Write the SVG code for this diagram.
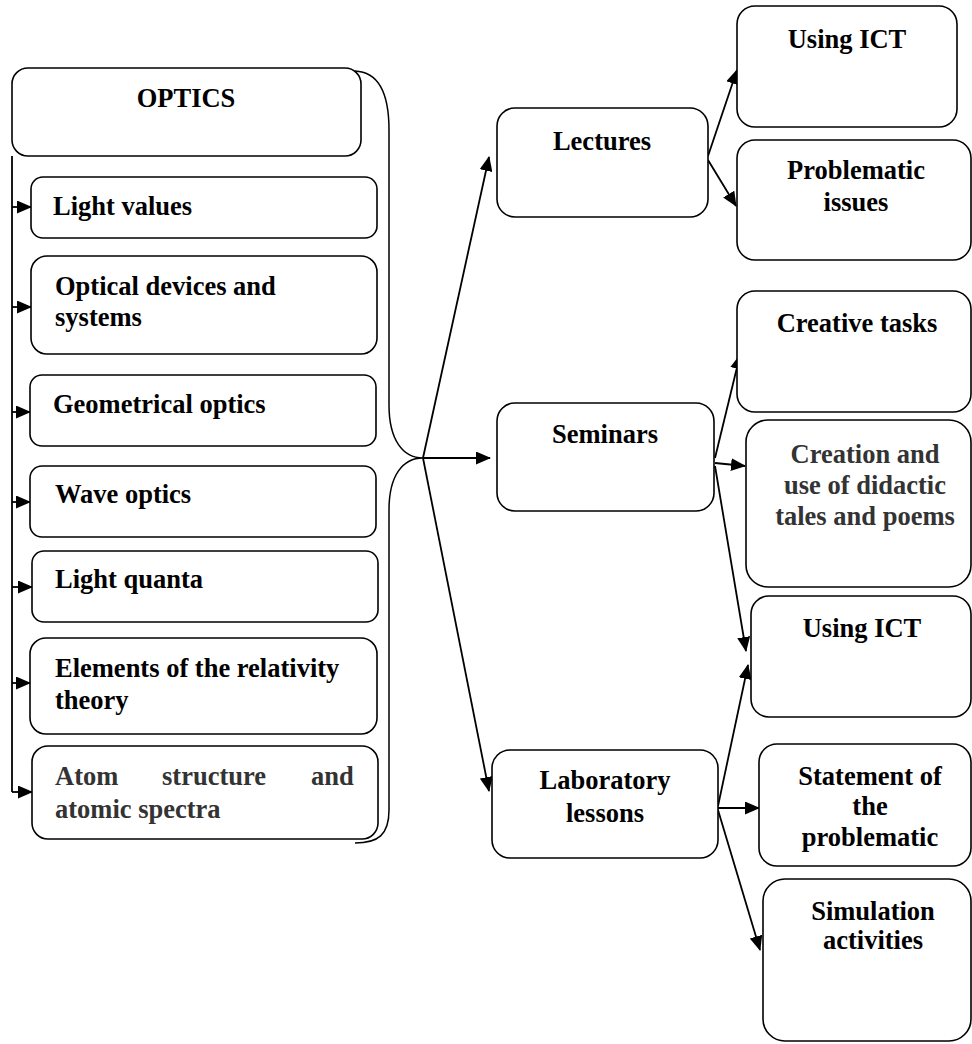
<svg xmlns="http://www.w3.org/2000/svg" width="972" height="1044" viewBox="0 0 972 1044">
<defs>
<marker id="ah" markerWidth="15" markerHeight="13" refX="14" refY="6.5" orient="auto" markerUnits="userSpaceOnUse">
<path d="M0,0 L15,6.5 L0,13 Z" fill="#000"/>
</marker>
<style>
.box{fill:#fff;stroke:#000;stroke-width:1.6}
.t{font-family:"Liberation Serif","Times New Roman",serif;font-weight:bold;font-size:26.5px;fill:#000}
.g{fill:#333}
.c{text-anchor:middle}
.ln{fill:none;stroke:#000;stroke-width:1.8}
.br{fill:none;stroke:#000;stroke-width:1.5}
</style>
</defs>
<rect width="972" height="1044" fill="#fff"/>

<g id="connectors">
<path class="br" d="M355,71 C380,72 389,95 389,130 L389,405 C389,440 403,458 423,458 C403,458 389,475 389,510 L389,810 C389,835 378,843 355,843"/>
<path class="ln" d="M12,156 L12,792"/>
<line class="ln" x1="12" y1="207" x2="31" y2="207" marker-end="url(#ah)"/>
<line class="ln" x1="12" y1="307" x2="31" y2="307" marker-end="url(#ah)"/>
<line class="ln" x1="12" y1="412" x2="30" y2="412" marker-end="url(#ah)"/>
<line class="ln" x1="12" y1="502" x2="30" y2="502" marker-end="url(#ah)"/>
<line class="ln" x1="12" y1="587" x2="32" y2="587" marker-end="url(#ah)"/>
<line class="ln" x1="12" y1="683" x2="30" y2="683" marker-end="url(#ah)"/>
<line class="ln" x1="12" y1="792" x2="32" y2="792" marker-end="url(#ah)"/>
<line class="ln" x1="423" y1="458" x2="489" y2="157" marker-end="url(#ah)"/>
<line class="ln" x1="423" y1="458" x2="490" y2="458" marker-end="url(#ah)"/>
<line class="ln" x1="423" y1="458" x2="489" y2="791" marker-end="url(#ah)"/>
<line class="ln" x1="708" y1="156" x2="737" y2="70" marker-end="url(#ah)"/>
<line class="ln" x1="708" y1="160" x2="736" y2="206" marker-end="url(#ah)"/>
<line class="ln" x1="715" y1="458" x2="740" y2="355" marker-end="url(#ah)"/>
<line class="ln" x1="715" y1="463" x2="745" y2="466" marker-end="url(#ah)"/>
<line class="ln" x1="715" y1="466" x2="746" y2="651" marker-end="url(#ah)"/>
<line class="ln" x1="718" y1="806" x2="748" y2="665" marker-end="url(#ah)"/>
<line class="ln" x1="718" y1="808" x2="759" y2="808" marker-end="url(#ah)"/>
<line class="ln" x1="718" y1="810" x2="760" y2="950" marker-end="url(#ah)"/>
</g>

<g id="optics"><rect class="box" x="12" y="68" width="349" height="88" rx="16"/><text class="t c" x="186" y="107">OPTICS</text></g>
<g id="light-values"><rect class="box" x="31" y="177" width="346" height="61" rx="12"/><text class="t" x="53" y="215">Light values</text></g>
<g id="optical-devices"><rect class="box" x="31" y="256" width="346" height="98" rx="16"/><text class="t" x="55" y="295">Optical devices and</text><text class="t" x="55" y="326">systems</text></g>
<g id="geometrical"><rect class="box" x="30" y="375" width="346" height="71" rx="12"/><text class="t" x="53" y="413">Geometrical optics</text></g>
<g id="wave"><rect class="box" x="30" y="466" width="346" height="71" rx="12"/><text class="t" x="55" y="503">Wave optics</text></g>
<g id="quanta"><rect class="box" x="32" y="551" width="346" height="71" rx="12"/><text class="t" x="55" y="588">Light quanta</text></g>
<g id="relativity"><rect class="box" x="30" y="638" width="347" height="96" rx="16"/><text class="t" x="55" y="677">Elements of the relativity</text><text class="t" x="55" y="709">theory</text></g>
<g id="atom"><rect class="box" x="32" y="746" width="346" height="93" rx="16"/><text class="t g" x="55" y="785">Atom</text><text class="t g" x="162" y="785">structure</text><text class="t g" x="311" y="785">and</text><text class="t g" x="55" y="818">atomic spectra</text></g>

<g id="lectures"><rect class="box" x="497" y="108" width="211" height="109" rx="18"/><text class="t c" x="602" y="150">Lectures</text></g>
<g id="seminars"><rect class="box" x="497" y="403" width="217" height="108" rx="18"/><text class="t c" x="605" y="443">Seminars</text></g>
<g id="laboratory"><rect class="box" x="492" y="750" width="226" height="108" rx="18"/><text class="t c" x="605" y="789">Laboratory</text><text class="t c" x="605" y="822">lessons</text></g>

<g id="ict-1"><rect class="box" x="737" y="6" width="220" height="121" rx="18"/><text class="t c" x="847" y="48">Using ICT</text></g>
<g id="problematic"><rect class="box" x="737" y="140" width="234" height="120" rx="18"/><text class="t c" x="856" y="179">Problematic</text><text class="t c" x="856" y="211">issues</text></g>
<g id="creative"><rect class="box" x="737" y="291" width="234" height="121" rx="18"/><text class="t c" x="857" y="332">Creative tasks</text></g>
<g id="creation"><rect class="box" x="746" y="420" width="225" height="167" rx="22"/><text class="t c g" x="865" y="463">Creation and</text><text class="t c g" x="865" y="494">use of didactic</text><text class="t c g" x="865" y="525">tales and poems</text></g>
<g id="ict-2"><rect class="box" x="751" y="596" width="220" height="121" rx="18"/><text class="t c" x="862" y="637">Using ICT</text></g>
<g id="statement"><rect class="box" x="759" y="744" width="212" height="122" rx="18"/><text class="t c" x="870" y="785">Statement of</text><text class="t c" x="870" y="815">the</text><text class="t c" x="870" y="846">problematic</text></g>
<g id="simulation"><rect class="box" x="763" y="879" width="208" height="162" rx="22"/><text class="t c" x="873" y="920">Simulation</text><text class="t c" x="873" y="949">activities</text></g>
</svg>
